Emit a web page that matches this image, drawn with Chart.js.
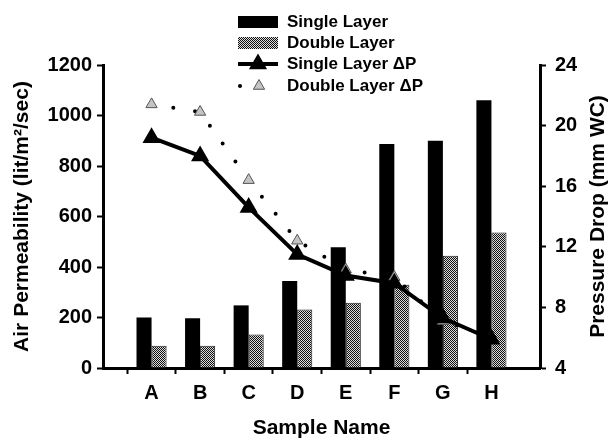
<!DOCTYPE html>
<html>
<head>
<meta charset="utf-8">
<script src="https://cdn.jsdelivr.net/npm/chart.js@4.4.1/dist/chart.umd.min.js"></script>
<style>
  html, body { margin: 0; padding: 0; background: #fff; }
  #wrap { width: 611px; height: 441px; }
</style>
</head>
<body>
<div id="wrap"><canvas id="chart" width="611" height="441"></canvas></div>
<script>
'use strict';

/* ── Data ───────────────────────────────────────────────────────── */
const CATEGORIES = ['A', 'B', 'C', 'D', 'E', 'F', 'G', 'H'];
const SINGLE_PERM = [200, 197, 248, 345, 478, 887, 900, 1060];
const DOUBLE_PERM = [88, 88, 133, 232, 258, 330, 445, 537];
const SINGLE_DP = [19.2, 18.0, 14.6, 11.5, 10.1, 9.6, 7.3, 5.9];
const DOUBLE_DP = [21.4, 20.9, 16.4, 12.4, 10.5, 10.0, 7.1, 6.1];
const PERM_TICKS = [0, 200, 400, 600, 800, 1000, 1200];
const DP_TICKS = [4, 8, 12, 16, 20, 24];

const FONT = '"Liberation Sans", Arial, sans-serif';

// blank slot on each side so the groups sit one step in from the axes
const labels = ['', ...CATEGORIES, ''];
const pad = arr => [null, ...arr, null];

/* ── Checker fill for the double layer bars ─────────────────────── */
function makeChecker() {
    const c = document.createElement('canvas');
    c.width = 2; c.height = 2;
    const g = c.getContext('2d');
    g.fillStyle = '#dcdcdc';
    g.fillRect(0, 0, 2, 2);
    g.fillStyle = '#111';
    g.fillRect(0, 0, 1, 1);
    g.fillRect(1, 1, 1, 1);
    return g.createPattern(c, 'repeat');
}
const checker = makeChecker();

/* ── Legend + right title (reads bottom to top like the left one) ─ */
const extrasPlugin = {
    id: 'extras',
    afterDraw(chart) {
        const ctx = chart.ctx;
        const x0 = 238, x1 = 278, tx = 287;
        const rows = [22, 43, 64, 86];
        ctx.save();

        ctx.fillStyle = '#000';
        ctx.fillRect(x0, rows[0] - 6, x1 - x0, 12);

        ctx.fillStyle = checker;
        ctx.fillRect(x0, rows[1] - 6, x1 - x0, 12);

        ctx.strokeStyle = '#000';
        ctx.lineWidth = 4;
        ctx.beginPath();
        ctx.moveTo(x0, rows[2]);
        ctx.lineTo(x1, rows[2]);
        ctx.stroke();
        ctx.fillStyle = '#000';
        Chart.helpers.drawPoint(ctx, { pointStyle: 'triangle', radius: 6.5, borderWidth: 1 }, (x0 + x1) / 2, rows[2]);

        ctx.beginPath();
        ctx.arc(x0 + 2, rows[3], 2, 0, Math.PI * 2);
        ctx.fill();
        ctx.fillStyle = '#c4c4c4';
        ctx.strokeStyle = '#555';
        ctx.lineWidth = 1;
        Chart.helpers.drawPoint(ctx, { pointStyle: 'triangle', radius: 6.5, borderWidth: 1 }, x0 + 21, rows[3]);

        ctx.fillStyle = '#000';
        ctx.font = 'bold 17px ' + FONT;
        ctx.textBaseline = 'middle';
        ctx.textAlign = 'left';
        ctx.fillText('Single Layer', tx, rows[0]);
        ctx.fillText('Double Layer', tx, rows[1]);
        ctx.fillText('Single Layer \u0394P', tx, rows[2]);
        ctx.fillText('Double Layer \u0394P', tx, rows[3]);

        const area = chart.chartArea;
        ctx.translate(598, (area.top + area.bottom) / 2);
        ctx.rotate(-Math.PI / 2);
        ctx.textAlign = 'center';
        ctx.font = 'bold 21px ' + FONT;
        ctx.fillText('Pressure Drop (mm WC)', 0, 0);
        ctx.restore();
    }
};

/* ── Chart ──────────────────────────────────────────────────────── */
const tickFont = { family: FONT, size: 20, weight: 'bold' };
const titleFont = { family: FONT, size: 21, weight: 'bold' };

new Chart(document.getElementById('chart'), {
    data: {
        labels,
        datasets: [
            {
                type: 'line',
                label: 'Single Layer \u0394P',
                data: pad(SINGLE_DP),
                yAxisID: 'y1',
                borderColor: '#000',
                borderWidth: 4,
                pointStyle: 'triangle',
                pointRadius: 6.5,
                pointBackgroundColor: '#000',
                pointBorderColor: '#000',
                order: 0
            },
            {
                type: 'line',
                label: 'Double Layer \u0394P',
                data: pad(DOUBLE_DP),
                yAxisID: 'y1',
                borderColor: '#000',
                borderWidth: 4,
                borderDash: [0, 22],
                borderCapStyle: 'round',
                pointStyle: 'triangle',
                pointRadius: 6.5,
                pointBackgroundColor: '#c4c4c4',
                pointBorderColor: '#555',
                pointBorderWidth: 1,
                order: 1
            },
            {
                type: 'bar',
                label: 'Single Layer',
                data: pad(SINGLE_PERM),
                yAxisID: 'y',
                backgroundColor: '#000',
                categoryPercentage: 0.62,
                barPercentage: 1.0,
                order: 2
            },
            {
                type: 'bar',
                label: 'Double Layer',
                data: pad(DOUBLE_PERM),
                yAxisID: 'y',
                backgroundColor: checker,
                borderColor: '#222',
                borderWidth: 1,
                categoryPercentage: 0.62,
                barPercentage: 1.0,
                order: 3
            }
        ]
    },
    options: {
        responsive: false,
        animation: false,
        devicePixelRatio: 1,
        layout: { padding: { top: 65, left: 0, right: 0, bottom: 0 } },
        plugins: {
            legend: { display: false },
            tooltip: { enabled: false }
        },
        scales: {
            x: {
                type: 'category',
                offset: false,
                grid: {
                    drawOnChartArea: false,
                    tickLength: 6,
                    tickWidth: 2,
                    tickColor: ctx => (ctx.index === 0 || ctx.index === labels.length - 1) ? 'rgba(0,0,0,0)' : '#000'
                },
                border: { color: '#000', width: 3 },
                ticks: { font: tickFont, color: '#000', padding: 7, maxRotation: 0, autoSkip: false },
                title: { display: true, text: 'Sample Name', font: titleFont, color: '#000', padding: 0 },
                afterFit: s => { s.height = 73; }
            },
            y: {
                position: 'left',
                min: PERM_TICKS[0],
                max: PERM_TICKS[PERM_TICKS.length - 1],
                afterBuildTicks: s => { s.ticks = PERM_TICKS.map(v => ({ value: v })); },
                grid: { drawOnChartArea: false, tickLength: 6, tickWidth: 2, tickColor: '#000' },
                border: { color: '#000', width: 3 },
                ticks: { font: tickFont, color: '#000', padding: 5, callback: v => String(v) },
                title: { display: true, text: 'Air Permeability (lit/m\u00b2/sec)', font: titleFont, color: '#000', padding: { top: 10, bottom: 0 } },
                afterFit: s => { s.width = 103; }
            },
            y1: {
                position: 'right',
                min: DP_TICKS[0],
                max: DP_TICKS[DP_TICKS.length - 1],
                afterBuildTicks: s => { s.ticks = DP_TICKS.map(v => ({ value: v })); },
                grid: { drawOnChartArea: false, tickLength: 6, tickWidth: 2, tickColor: '#000' },
                border: { color: '#000', width: 3 },
                ticks: { font: tickFont, color: '#000', padding: 9, callback: v => String(v) },
                title: { display: false },
                afterFit: s => { s.width = 71; }
            }
        }
    },
    plugins: [extrasPlugin]
});
</script>
</body>
</html>
